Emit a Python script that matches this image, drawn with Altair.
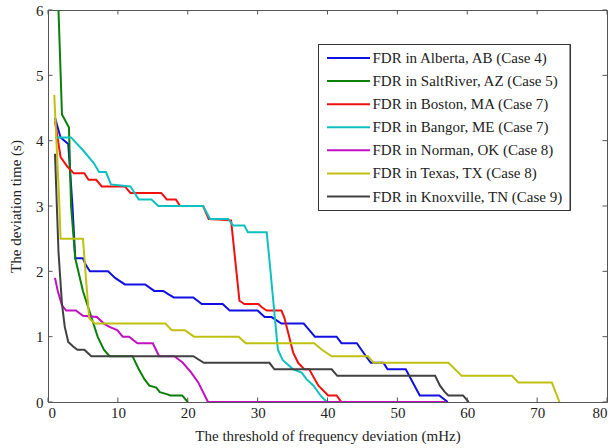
import altair as alt
import pandas as pd

names = [
    "FDR in Alberta, AB (Case 4)",
    "FDR in SaltRiver, AZ (Case 5)",
    "FDR in Boston, MA (Case 7)",
    "FDR in Bangor, ME (Case 7)",
    "FDR in Norman, OK (Case 8)",
    "FDR in Texas, TX (Case 8)",
    "FDR in Knoxville, TN (Case 9)",
]
colors = ["#1010e0", "#0a800a", "#f01010", "#10c0c0", "#c010c0", "#c0c010", "#404040"]

alberta_x = [1.0, 1.8, 2.9, 3.5, 3.9, 5.0, 5.4, 6.0, 8.6, 9.6, 11.0, 13.9, 15.2, 16.5, 17.2, 18.0, 20.8, 22.0, 25.0, 26.0, 30.0, 31.0, 32.0, 33.4, 36.6, 37.4, 38.2, 41.3, 42.0, 44.2, 45.5, 46.2, 48.0, 48.6, 51.2, 53.2, 56.0, 57.2]
alberta_y = [4.35, 4.05, 3.95, 3.0, 2.2, 2.2, 2.1, 2.0, 2.0, 1.9, 1.8, 1.8, 1.7, 1.7, 1.65, 1.6, 1.6, 1.5, 1.5, 1.4, 1.4, 1.3, 1.3, 1.2, 1.2, 1.1, 1.0, 1.0, 0.9, 0.9, 0.7, 0.6, 0.6, 0.5, 0.5, 0.1, 0.1, 0.0]

saltriver_x = [1.5, 2.0, 3.0, 3.3, 3.9, 5.0, 6.2, 7.1, 8.0, 8.8, 12.1, 13.0, 13.8, 14.5, 15.5, 16.0, 17.0, 17.5, 19.2, 20.0]
saltriver_y = [6.0, 4.4, 4.2, 3.0, 2.2, 1.7, 1.3, 1.0, 0.8, 0.7, 0.7, 0.5, 0.35, 0.25, 0.22, 0.15, 0.12, 0.1, 0.1, 0.0]

boston_x = [1.0, 1.8, 2.8, 3.7, 5.2, 5.8, 6.9, 7.7, 11.0, 11.8, 16.2, 17.0, 18.3, 18.9, 22.2, 22.6, 23.0, 26.2, 27.4, 28.1, 30.1, 30.6, 31.3, 33.4, 33.8, 34.4, 35.1, 35.8, 36.7, 37.4, 37.9, 38.7, 40.1, 41.3, 42.0]
boston_y = [4.3, 3.75, 3.6, 3.5, 3.5, 3.4, 3.4, 3.3, 3.3, 3.2, 3.2, 3.1, 3.1, 3.0, 3.0, 2.9, 2.8, 2.78, 1.55, 1.5, 1.5, 1.45, 1.4, 1.4, 1.3, 1.05, 0.75, 0.6, 0.5, 0.5, 0.4, 0.25, 0.1, 0.1, 0.0]

bangor_x = [1.0, 3.3, 5.2, 6.6, 7.3, 8.3, 9.0, 11.8, 12.4, 13.0, 14.8, 15.8, 22.2, 22.7, 23.2, 25.8, 26.5, 28.1, 28.6, 31.3, 31.8, 32.5, 32.9, 33.6, 35.1, 36.3, 37.0, 38.0, 39.0, 39.9]
bangor_y = [4.05, 4.05, 3.83, 3.65, 3.52, 3.52, 3.33, 3.3, 3.2, 3.1, 3.1, 3.0, 3.0, 2.9, 2.8, 2.8, 2.7, 2.7, 2.6, 2.6, 2.05, 1.25, 0.8, 0.64, 0.5, 0.45, 0.35, 0.25, 0.1, 0.0]

norman_x = [1.0, 1.4, 2.0, 2.6, 4.0, 5.0, 7.0, 8.0, 8.8, 9.9, 10.7, 11.6, 12.8, 15.0, 15.9, 18.1, 19.3, 20.5, 21.5, 22.9, 57.0]
norman_y = [1.9, 1.7, 1.48, 1.4, 1.4, 1.32, 1.3, 1.2, 1.15, 1.1, 1.0, 1.0, 0.9, 0.9, 0.7, 0.7, 0.6, 0.45, 0.3, 0.0, 0.0]

texas_x = [0.9, 1.2, 1.6, 1.8, 5.0, 5.5, 5.9, 6.7, 16.8, 17.7, 19.6, 20.9, 27.3, 28.3, 38.1, 39.2, 40.6, 45.8, 46.6, 57.3, 59.2, 66.4, 67.3, 72.1, 73.2]
texas_y = [4.7, 4.0, 3.1, 2.5, 2.5, 1.8, 1.28, 1.2, 1.2, 1.1, 1.1, 1.0, 1.0, 0.9, 0.9, 0.8, 0.7, 0.7, 0.6, 0.6, 0.4, 0.4, 0.3, 0.3, 0.0]

knoxville_x = [1.0, 1.5, 2.0, 2.4, 2.9, 3.6, 4.2, 5.2, 5.7, 6.2, 20.8, 22.3, 31.7, 32.4, 40.6, 41.4, 55.4, 56.1, 56.8, 57.3, 59.4, 60.2]
knoxville_y = [3.8, 2.3, 1.5, 1.15, 0.92, 0.85, 0.8, 0.8, 0.75, 0.7, 0.7, 0.6, 0.6, 0.5, 0.5, 0.4, 0.4, 0.25, 0.15, 0.1, 0.1, 0.0]

x_ticks = [0, 10, 20, 30, 40, 50, 60, 70, 80]
y_ticks = [0, 1, 2, 3, 4, 5, 6]

series_x = [alberta_x, saltriver_x, boston_x, bangor_x, norman_x, texas_x, knoxville_x]
series_y = [alberta_y, saltriver_y, boston_y, bangor_y, norman_y, texas_y, knoxville_y]

rows = []
for name, xs, ys in zip(names, series_x, series_y):
    for i, (xv, yv) in enumerate(zip(xs, ys)):
        rows.append({"series": name, "x": xv, "y": yv, "idx": i})
df = pd.DataFrame(rows)

W, H = 559, 392
FONT = "Liberation Serif"
xscale = alt.Scale(domain=[0, 80], nice=False, zero=False)
yscale = alt.Scale(domain=[0, 6], nice=False, zero=False)
cscale = alt.Scale(domain=names, range=colors)

xaxis = alt.Axis(values=x_ticks, tickSize=0, domain=False, grid=False,
                 labelFont=FONT, labelFontSize=15, labelColor="#222",
                 labelPadding=3, title="The threshold of frequency deviation (mHz)",
                 titleFont=FONT, titleFontSize=15, titleFontWeight="normal",
                 titleColor="#222", titlePadding=8)
yaxis = alt.Axis(values=y_ticks, tickSize=0, domain=False, grid=False,
                 labelFont=FONT, labelFontSize=15, labelColor="#222",
                 labelPadding=5, title="The deviation time (s)",
                 titleFont=FONT, titleFontSize=15, titleFontWeight="normal",
                 titleColor="#222", titlePadding=12)

layers = []
for name in names:
    ln = alt.Chart(df).transform_filter(alt.datum.series == name).mark_line(
        strokeWidth=2, clip=True
    ).encode(
        x=alt.X("x:Q", scale=xscale, axis=xaxis),
        y=alt.Y("y:Q", scale=yscale, axis=yaxis),
        color=alt.Color("series:N", scale=cscale, legend=None),
        order=alt.Order("idx:Q"),
    )
    layers.append(ln)

xt = pd.DataFrame({"v": x_ticks})
yt = pd.DataFrame({"v": y_ticks})
tick_color = "#555"
xb = alt.Chart(xt).mark_rule(color=tick_color, strokeWidth=1).encode(
    x=alt.X("v:Q", scale=xscale, axis=xaxis), y=alt.value(H), y2=alt.value(H - 4.5))
xtp = alt.Chart(xt).mark_rule(color=tick_color, strokeWidth=1).encode(
    x=alt.X("v:Q", scale=xscale, axis=xaxis), y=alt.value(0), y2=alt.value(4.5))
yl = alt.Chart(yt).mark_rule(color=tick_color, strokeWidth=1).encode(
    y=alt.Y("v:Q", scale=yscale, axis=yaxis), x=alt.value(0), x2=alt.value(4.5))
yr = alt.Chart(yt).mark_rule(color=tick_color, strokeWidth=1).encode(
    y=alt.Y("v:Q", scale=yscale, axis=yaxis), x=alt.value(W), x2=alt.value(W - 4.5))

leg_df = pd.DataFrame({"series": names, "row": list(range(len(names)))})
lyscale = alt.Scale(domain=[0, 6], range=[48, 186.5])
box = alt.Chart(leg_df).mark_rect(fill="white", stroke="#333", strokeWidth=1).encode(
    x=alt.value(270.5), x2=alt.value(522), y=alt.value(34.5), y2=alt.value(200.5))
leg_lines = alt.Chart(leg_df).mark_rule(strokeWidth=2).encode(
    x=alt.value(279), x2=alt.value(322),
    y=alt.Y("row:Q", scale=lyscale, axis=None),
    color=alt.Color("series:N", scale=cscale, legend=None))
leg_text = alt.Chart(leg_df).mark_text(
    align="left", baseline="middle", font=FONT, fontSize=15, color="#222"
).encode(
    x=alt.value(324.5),
    y=alt.Y("row:Q", scale=lyscale, axis=None),
    text="series:N")

legend = alt.layer(box, leg_lines, leg_text)

main = alt.layer(*layers, xb, xtp, yl, yr)

chart = alt.layer(main, legend).resolve_scale(y="independent").properties(
    width=W, height=H,
    padding={"left": 48, "top": 10, "right": 6, "bottom": 46},
    autosize=alt.AutoSizeParams(type="none"),
    background="white",
).configure_view(stroke="#555", strokeWidth=1)

chart.save("out.html", embed_options={"renderer": "svg", "actions": False})
